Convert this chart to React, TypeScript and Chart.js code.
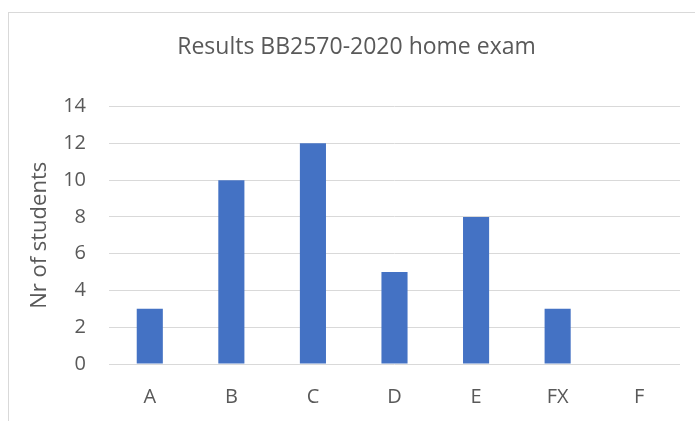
import React, { useEffect, useRef } from "react";
import { Chart, registerables } from "chart.js";

Chart.register(...registerables);

const categories = ["A", "B", "C", "D", "E", "FX", "F"];
const students = [3, 10, 12, 5, 8, 3, 0];
const titleText = "Results BB2570-2020 home exam";
const yTitle = "Nr of students";

const FONT = "'Open Sans', sans-serif";
const TEXT = "#595959";

export default function App() {
  const ref = useRef<HTMLCanvasElement>(null);
  useEffect(() => {
    if (!ref.current) return;
    const chart = new Chart(ref.current, {
      type: "bar",
      data: {
        labels: categories,
        datasets: [
          {
            data: students,
            backgroundColor: "#4472C4",
            barPercentage: 0.32,
            categoryPercentage: 1,
            yAxisID: "y",
          },
        ],
      },
      options: {
        animation: false,
        responsive: false,
        maintainAspectRatio: false,
        layout: { padding: { left: 12, right: 17, top: 0, bottom: 0 } },
        plugins: {
          legend: { display: false },
          tooltip: { enabled: false },
          title: {
            display: true,
            text: titleText,
            color: TEXT,
            font: { family: FONT, size: 23, weight: "normal" },
            padding: { top: 21, bottom: 45 },
          },
        },
        scales: {
          x: {
            grid: { display: false },
            border: { display: false },
            ticks: { color: TEXT, font: { family: FONT, size: 20 }, padding: 13 },
            afterFit: (s: any) => {
              s.height = 69;
            },
          },
          y: {
            min: 0,
            max: 14,
            ticks: { stepSize: 2, color: TEXT, font: { family: FONT, size: 20 }, padding: 23 },
            grid: { color: "#d9d9d9", lineWidth: 1, drawTicks: false },
            border: { display: false },
            title: {
              display: true,
              text: yTitle,
              color: TEXT,
              font: { family: FONT, size: 22, weight: "normal" },
              padding: { top: 6, bottom: 0 },
            },
            afterFit: (s: any) => {
              s.width = 88;
            },
          },
          spacer: {
            type: "linear",
            position: "right",
            min: 0,
            max: 14,
            ticks: { display: false },
            grid: { display: false },
            border: { display: false },
            afterFit: (s: any) => {
              s.width = 12;
            },
          },
        },
      },
    });
    return () => chart.destroy();
  }, []);
  return (
    <div
      style={{
        position: "fixed",
        left: 8,
        top: 12,
        width: 700,
        height: 420,
        border: "1px solid #d9d9d9",
        background: "#fff",
      }}
    >
      <canvas ref={ref} width={700} height={420} style={{ display: "block" }} />
    </div>
  );
}
